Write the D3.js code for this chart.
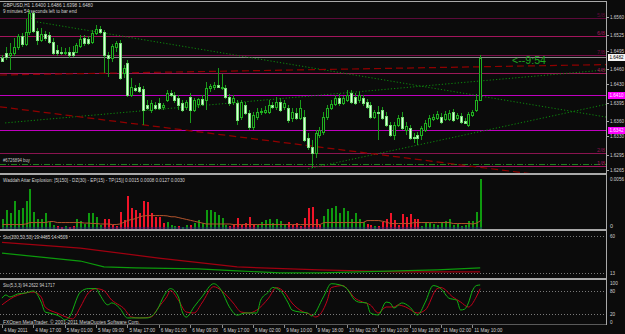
<!DOCTYPE html>
<html>
<head>
<meta charset="utf-8">
<script src="https://cdn.jsdelivr.net/npm/d3@7"></script>
<style>
html, body { margin: 0; padding: 0; background: #0b0b0b; overflow: hidden; }
svg { display: block; }
text { font-family: "Liberation Sans", Arial, sans-serif; }
</style>
</head>
<body>
<svg id="chart" width="625" height="334"></svg>
<script>
// ---- GBPUSD H1 candles (bar 0 = 4 May 09:00) ----
const opens = [1.6481,1.6490,1.6486,1.6490,1.6502,1.6523,1.6508,1.6531,1.6567,1.6533,1.6515,1.6527,1.6525,1.6511,1.6496,1.6492,1.6490,1.6492,1.6492,1.6492,1.6504,1.6519,1.6517,1.6511,1.6529,1.6536,1.6531,1.6486,1.6481,1.6502,1.6509,1.6452,1.6471,1.6410,1.6423,1.6425,1.6421,1.6390,1.6381,1.6390,1.6394,1.6387,1.6400,1.6413,1.6410,1.6404,1.6394,1.6387,1.6406,1.6381,1.6392,1.6402,1.6400,1.6423,1.6425,1.6429,1.6423,1.6423,1.6406,1.6396,1.6394,1.6367,1.6390,1.6375,1.6348,1.6367,1.6377,1.6377,1.6377,1.6390,1.6387,1.6396,1.6387,1.6385,1.6365,1.6375,1.6365,1.6367,1.6327,1.6310,1.6298,1.6333,1.6339,1.6367,1.6385,1.6392,1.6404,1.6394,1.6400,1.6413,1.6406,1.6400,1.6404,1.6396,1.6390,1.6367,1.6377,1.6381,1.6369,1.6352,1.6333,1.6352,1.6367,1.6342,1.6346,1.6329,1.6333,1.6333,1.6342,1.6350,1.6364,1.6365,1.6367,1.6364,1.6364,1.6377,1.6365,1.6369,1.6360,1.6352,1.6371,1.6381,1.6400];
const highs = [1.6486,1.6502,1.6509,1.6519,1.6527,1.6529,1.6556,1.6573,1.6569,1.6538,1.6538,1.6533,1.6531,1.6519,1.6506,1.6502,1.6500,1.6502,1.6504,1.6509,1.6525,1.6525,1.6523,1.6534,1.6544,1.6542,1.6534,1.6492,1.6508,1.6513,1.6515,1.6467,1.6477,1.6442,1.6429,1.6433,1.6427,1.6400,1.6400,1.6396,1.6404,1.6394,1.6419,1.6419,1.6415,1.6410,1.6400,1.6400,1.6413,1.6404,1.6404,1.6410,1.6435,1.6431,1.6435,1.6461,1.6450,1.6429,1.6412,1.6410,1.6400,1.6400,1.6396,1.6381,1.6377,1.6385,1.6385,1.6389,1.6400,1.6396,1.6406,1.6404,1.6400,1.6390,1.6385,1.6385,1.6400,1.6381,1.6337,1.6323,1.6342,1.6348,1.6377,1.6390,1.6400,1.6410,1.6412,1.6408,1.6419,1.6419,1.6413,1.6415,1.6410,1.6402,1.6396,1.6381,1.6389,1.6387,1.6377,1.6358,1.6358,1.6371,1.6377,1.6358,1.6352,1.6337,1.6339,1.6350,1.6362,1.6371,1.6373,1.6379,1.6375,1.6379,1.6381,1.6383,1.6375,1.6375,1.6365,1.6377,1.6381,1.6412,1.6486];
const lows = [1.6473,1.6477,1.6458,1.6484,1.6496,1.6502,1.6504,1.6525,1.6529,1.6506,1.6511,1.6513,1.6508,1.6486,1.6484,1.6486,1.6486,1.6481,1.6483,1.6490,1.6500,1.6504,1.6506,1.6508,1.6525,1.6527,1.6452,1.6444,1.6473,1.6492,1.6438,1.6442,1.6406,1.6406,1.6415,1.6413,1.6352,1.6381,1.6375,1.6381,1.6381,1.6381,1.6396,1.6406,1.6394,1.6381,1.6377,1.6381,1.6356,1.6377,1.6385,1.6389,1.6381,1.6415,1.6419,1.6423,1.6419,1.6402,1.6389,1.6390,1.6352,1.6362,1.6371,1.6342,1.6342,1.6362,1.6371,1.6373,1.6373,1.6383,1.6381,1.6377,1.6381,1.6356,1.6358,1.6362,1.6362,1.6319,1.6304,1.6269,1.6289,1.6327,1.6333,1.6362,1.6381,1.6389,1.6389,1.6390,1.6396,1.6392,1.6390,1.6394,1.6389,1.6383,1.6364,1.6364,1.6323,1.6362,1.6348,1.6329,1.6323,1.6348,1.6342,1.6333,1.6323,1.6317,1.6314,1.6323,1.6339,1.6346,1.6360,1.6362,1.6354,1.6360,1.6360,1.6358,1.6362,1.6354,1.6354,1.6348,1.6367,1.6377,1.6398];
const closes = [1.6475,1.6483,1.6490,1.6502,1.6523,1.6508,1.6531,1.6567,1.6533,1.6515,1.6527,1.6519,1.6511,1.6490,1.6490,1.6490,1.6492,1.6486,1.6486,1.6506,1.6517,1.6509,1.6509,1.6529,1.6536,1.6531,1.6486,1.6481,1.6504,1.6509,1.6442,1.6461,1.6410,1.6425,1.6419,1.6417,1.6381,1.6385,1.6394,1.6385,1.6385,1.6390,1.6413,1.6410,1.6400,1.6390,1.6381,1.6396,1.6381,1.6400,1.6402,1.6392,1.6423,1.6427,1.6429,1.6425,1.6425,1.6406,1.6394,1.6404,1.6362,1.6396,1.6375,1.6348,1.6371,1.6377,1.6378,1.6381,1.6390,1.6387,1.6396,1.6381,1.6394,1.6362,1.6377,1.6365,1.6385,1.6323,1.6310,1.6298,1.6337,1.6342,1.6367,1.6385,1.6392,1.6404,1.6394,1.6404,1.6410,1.6396,1.6394,1.6410,1.6394,1.6387,1.6367,1.6377,1.6376,1.6365,1.6352,1.6333,1.6352,1.6365,1.6346,1.6350,1.6327,1.6327,1.6327,1.6346,1.6356,1.6365,1.6367,1.6373,1.6358,1.6373,1.6375,1.6362,1.6371,1.6358,1.6356,1.6373,1.6377,1.6400,1.6480];

// ---- time axis ----
const timeLabelBars = [0, 8, 16, 24, 32, 40, 48, 56, 64, 72, 80, 88, 96, 104, 112, 120];
const timeLabels = ['4 May 2011', '4 May 17:00', '5 May 01:00', '5 May 09:00', '5 May 17:00', '6 May 01:00', '6 May 09:00', '6 May 17:00', '9 May 02:00', '9 May 10:00', '9 May 18:00', '10 May 02:00', '10 May 10:00', '10 May 18:00', '11 May 02:00', '11 May 10:00'];

// ---- price axis ----
const priceTicks = [1.6560, 1.6525, 1.6495, 1.6460, 1.6430, 1.6395, 1.6360, 1.6330, 1.6295, 1.6265];
const bidPrice = 1.6482;
const alertPrices = [1.6410, 1.6342];
const levelPrices = [1.6558, 1.6523, 1.6486, 1.6452, 1.6298, 1.6273];
const levelNames = ['5/8', '6/8', '7/8', '4/8', '2/8', '1/8'];
const buyOrderPrice = 1.6278;
const buyOrderName = '#6726894 buy';
// trend lines: [bar start, price start, bar end, price end]
const greenTrends = [[8.9, 1.6550, 154.3, 1.6367], [78.1, 1.6268, 154.3, 1.6392], [0.8, 1.6356, 154.3, 1.6458]];
const redTrends = [[-0.5, 1.6448, 154.3, 1.6468], [-0.5, 1.6387, 154.3, 1.6240]];

// ---- Waddah Attar Explosion (positive = green, negative = red) ----
const waeHist = [0.0011,0.0020,0.0017,0.0031,0.0021,0.0023,0.0030,0.0044,0.0018,0.0011,
  0.0011,0.0017,0.0007,0.0004,-0.0003,-0.0002,0.0003,-0.0002,-0.0003,0.0011,
  0.0008,0.0005,0.0017,0.0017,0.0013,0.0004,-0.0010,-0.0011,-0.0004,-0.0003,
  -0.0018,-0.0009,-0.0036,-0.0023,-0.0020,-0.0017,-0.0030,-0.0029,-0.0017,-0.0013,
  -0.0013,-0.0006,0.0007,0.0004,0.0003,-0.0003,0.0002,0.0004,-0.0004,0.0006,
  0.0009,0.0006,0.0021,0.0021,0.0018,0.0015,0.0012,0.0004,-0.0003,-0.0005,
  -0.0012,-0.0004,-0.0006,-0.0013,-0.0005,0.0004,0.0007,0.0009,0.0011,0.0006,
  0.0010,0.0008,0.0005,-0.0007,-0.0004,-0.0006,-0.0003,-0.0012,-0.0023,-0.0024,
  -0.0010,-0.0004,0.0014,0.0022,0.0023,0.0025,0.0017,0.0023,0.0019,0.0011,
  0.0017,0.0011,0.0007,-0.0005,-0.0004,0.0003,-0.0003,-0.0007,-0.0011,-0.0017,
  -0.0009,-0.0004,-0.0016,-0.0013,-0.0016,-0.0010,-0.0010,0.0003,0.0007,0.0006,
  0.0005,0.0004,0.0007,0.0008,0.0011,0.0004,0.0005,0.0003,0.0004,0.0008,
  0.0008,0.0018,0.0055];
const waeLine = [0.00044,0.00044,0.00044,0.00044,0.00044,0.00044,0.0005,0.00066,0.00066,0.00066,
  0.00066,0.00066,0.00077,0.00077,0.00066,0.00066,0.00066,0.00066,0.00066,0.00066,
  0.00066,0.0006,0.0006,0.00055,0.00055,0.0005,0.0005,0.0005,0.00044,0.00044,
  0.0005,0.0007,0.0009,0.0010,0.0011,0.0013,0.0014,0.00143,0.00143,0.00143,
  0.00143,0.00143,0.0014,0.0013,0.0013,0.0012,0.0011,0.0010,0.0009,0.0008,
  0.0007,0.0006,0.0005,0.0005,0.0005,0.0005,0.0005,0.0005,0.0005,0.00044,
  0.00044,0.00044,0.00044,0.00044,0.00044,0.00044,0.00044,0.00044,0.00044,0.00044,
  0.00044,0.00044,0.00044,0.00044,0.00044,0.00044,0.00044,0.00044,0.00044,0.00044,
  0.00044,0.00044,0.00066,0.00066,0.00066,0.00066,0.00066,0.00066,0.00066,0.00066,
  0.00066,0.00066,0.00066,0.00088,0.00088,0.00088,0.00088,0.0008,0.0007,0.00055,
  0.00055,0.00055,0.00055,0.00055,0.00055,0.00066,0.00066,0.00066,0.00066,0.00066,
  0.00066,0.00066,0.00066,0.00066,0.00066,0.00055,0.00055,0.00055,0.00055,0.00055,
  0.0005,0.0006,0.00088];
const waeTicks = ['0.0056', '0'];

// ---- Sto(200,50,50) ----
const slowMainBars = [0, 10, 20, 26, 34, 50, 60, 71, 81, 91, 101, 111, 122];
const slowMain = [38.2, 33.2, 28.2, 20.7, 19.45, 18.2, 15.7, 13.2, 13.2, 14.45, 15.7, 16.95, 19.45];
const slowSignalBars = [0, 20, 40, 60, 81, 101, 122];
const slowSignal = [52, 44.5, 32, 20.7, 16.95, 14.45, 14.45];
const slowTicks = [60, 13];

// ---- Sto(5,3,3) ----
const fastMainBars = [0,1,2,4,6,8,10,11,12,15,16,17,20,22,24,25,27,28,30,32,33,37,40,41,43,45,46,47,49,51,54,56,58,60,62,65,66,68,69,71,73,74,76,78,79,82,84,86,88,90,91,93,94,96,98,99,100,102,104,106,108,110,112,114,116,117,118,119,120,121,122];
const fastMain = [61,69,64,71.5,74,79,51,26,23.5,13.4,6,11,76.5,85,85,69,44,49,36,11,11,11,39,61,85,64,26,13,39,64,97.5,80,39,18,23.5,23.5,56,76.5,88,80,49,31,26,23.5,16,64,97.5,95,85,56,51,49,23.5,18.4,51,49,36,49,39,18.4,51,92.7,85,61,56,31,33,49,79,92.7,94.26];
const fastSignalBars = [0,3,5,8,10,11,14,17,18,20,22,24,26,28,29,31,33,35,38,40,42,43,45,47,49,51,54,56,59,61,63,65,68,70,72,74,76,79,80,83,84,87,88,90,92,94,96,98,100,101,103,106,108,111,112,115,117,119,121,122];
const fastSignal = [44,64,71.5,76.5,64,38.6,23.5,11,8.3,38.6,74,85,80,56,49,36,13.4,11,13.4,38.6,64,80,56,26,23.5,48.7,90,80,48.7,26,23.5,31,61,87.6,76.5,48.7,31,18.4,13.4,56,87.6,92.7,85,61.4,51.3,43.7,23.5,38.6,38.6,43.7,38.6,23.5,31,85,87.6,64,51.3,38.6,64,85];
const fastTicks = [100, 80, 20, 0];

// ---- styles ----
const BG = '#0b0b0b';
const AXIS_X = 607;
const TXT = '#d2d2d2';
const GRAY = '#a9a9a9';
const levelColors = ['#5c0a3a', '#a3155c', '#780c48', '#9c1858', '#8a1450', '#a3165e'];

const svg = d3.select('#chart');
svg.append('rect').attr('width', 625).attr('height', 334).attr('fill', BG);

const x = d3.scaleLinear().domain([0, 122]).range([2, 480.2]);
const yPrice = d3.scaleLinear().domain([1.6265, 1.6560]).range([170.3, 16.7]);
const yWae = d3.scaleLinear().domain([0, 0.0056]).range([228.5, 178]);
const ySlow = d3.scaleLinear().domain([13, 60]).range([273, 236]);
const yFast = d3.scaleLinear().domain([0, 100]).range([322.3, 282.7]);

const defs = svg.append('defs');
defs.append('clipPath').attr('id', 'clip-main').append('rect').attr('x', 0).attr('y', 2).attr('width', AXIS_X).attr('height', 171);

// squeeze a text horizontally to a given width (MT4 uses narrow bitmap fonts)
function squeeze(node, xx, yy, len) {
	const w = node.getComputedTextLength();
	const s = w > 0 && len ? Math.min(1.3, len / w) : 1;
	d3.select(node).attr('x', 0).attr('y', 0).attr('transform', `translate(${xx},${yy}) scale(${s},1)`);
}

function label(g, str, xx, yy, len, opts = {}) {
	const t = g.append('text')
		.attr('fill', opts.fill || TXT)
		.attr('font-size', opts.size || 6)
		.attr('text-anchor', opts.anchor || 'start')
		.text(str);
	squeeze(t.node(), xx, yy, len);
	return t;
}

// MAIN PANEL
const main = svg.append('g').attr('clip-path', 'url(#clip-main)');
const hl = main.append('g').attr('shape-rendering', 'crispEdges');
const snap = (v) => Math.round(v) + 0.5;

hl.selectAll('line.level')
	.data(levelPrices)
	.join('line')
	.attr('class', 'level')
	.attr('x1', 0).attr('x2', AXIS_X)
	.attr('y1', (d) => snap(yPrice(d))).attr('y2', (d) => snap(yPrice(d)))
	.attr('stroke', (d, k) => levelColors[k]);

hl.selectAll('line.alert')
	.data(alertPrices)
	.join('line')
	.attr('class', 'alert')
	.attr('x1', 0).attr('x2', AXIS_X)
	.attr('y1', (d) => snap(yPrice(d))).attr('y2', (d) => snap(yPrice(d)))
	.attr('stroke', '#c000c0');

hl.append('line')
	.attr('x1', 0).attr('x2', AXIS_X)
	.attr('y1', snap(yPrice(bidPrice))).attr('y2', snap(yPrice(bidPrice)))
	.attr('stroke', '#8a8a8a');

hl.append('line')
	.attr('x1', 0).attr('x2', AXIS_X)
	.attr('y1', snap(yPrice(buyOrderPrice))).attr('y2', snap(yPrice(buyOrderPrice)))
	.attr('stroke', '#1f801f')
	.attr('stroke-dasharray', '6,2,1,2');

// trend lines
main.selectAll('line.gtrend')
	.data(greenTrends)
	.join('line')
	.attr('class', 'gtrend')
	.attr('x1', (d) => x(d[0])).attr('y1', (d) => yPrice(d[1]))
	.attr('x2', (d) => x(d[2])).attr('y2', (d) => yPrice(d[3]))
	.attr('stroke', '#0c8a0c')
	.attr('stroke-width', 1)
	.attr('stroke-dasharray', '1.2,2');

main.selectAll('line.rtrend')
	.data(redTrends)
	.join('line')
	.attr('class', 'rtrend')
	.attr('x1', (d) => x(d[0])).attr('y1', (d) => yPrice(d[1]))
	.attr('x2', (d) => x(d[2])).attr('y2', (d) => yPrice(d[3]))
	.attr('stroke', '#900000')
	.attr('stroke-width', 1.2)
	.attr('stroke-dasharray', '7,4');

// candles
const bars = d3.range(opens.length).map((i) => ({ i, o: opens[i], h: highs[i], l: lows[i], c: closes[i] }));
const cg = main.append('g').attr('shape-rendering', 'crispEdges');
cg.selectAll('line.wick')
	.data(bars)
	.join('line')
	.attr('class', 'wick')
	.attr('x1', (d) => Math.round(x(d.i)) + 0.5)
	.attr('x2', (d) => Math.round(x(d.i)) + 0.5)
	.attr('y1', (d) => yPrice(d.h))
	.attr('y2', (d) => yPrice(d.l))
	.attr('stroke', '#1a9a1a');

cg.selectAll('rect.body')
	.data(bars)
	.join('rect')
	.attr('class', 'body')
	.attr('x', (d) => Math.round(x(d.i)) - 0.5)
	.attr('y', (d) => Math.round(yPrice(Math.max(d.o, d.c))) + 0.5)
	.attr('width', 2)
	.attr('height', (d) => Math.max(0.01, Math.round(yPrice(Math.min(d.o, d.c))) - Math.round(yPrice(Math.max(d.o, d.c)))))
	.attr('fill', (d) => (d.c >= d.o ? BG : '#dcffdc'))
	.attr('stroke', (d) => (d.c >= d.o ? '#1fb01f' : '#78e078'));

// header texts
const txt = svg.append('g');
label(txt, 'GBPUSD,H1  1.6400 1.6486 1.6398 1.6480', 3, 6.8, 90, { size: 5.5 });
label(txt, '9 minutes 54 seconds left to bar end', 3, 13.2, 74, { size: 5.5 });
label(txt, buyOrderName, 3, 162, 27, { fill: '#c8c8c8' });
label(txt, '<--9:54', 512, 63.5, 34, { fill: '#1ea51e', size: 10 });

// level names near axis
txt.selectAll('text.lvl')
	.data(levelPrices)
	.join('text')
	.attr('class', 'lvl')
	.attr('text-anchor', 'end')
	.attr('font-size', 5.5)
	.attr('fill', (d, k) => levelColors[k])
	.text((d, k) => levelNames[k])
	.each(function (d) { squeeze(this, 605, yPrice(d) - 1, 8); });

// WAE PANEL
const wae = svg.append('g').attr('shape-rendering', 'crispEdges');
wae.selectAll('rect.hist')
	.data(waeHist)
	.join('rect')
	.attr('class', 'hist')
	.attr('x', (d, i) => Math.round(x(i)))
	.attr('width', 1.6)
	.attr('y', (d) => yWae(Math.abs(d)))
	.attr('height', (d) => yWae(0) - yWae(Math.abs(d)))
	.attr('fill', (d) => (d >= 0 ? '#0f9a0f' : '#f01428'));

svg.append('path')
	.datum(waeLine)
	.attr('fill', 'none')
	.attr('stroke', '#b4552d')
	.attr('stroke-width', 1)
	.attr('d', d3.line().x((d, i) => x(i) + 0.5).y((d) => yWae(d)));

svg.append('line')
	.attr('x1', x(0)).attr('x2', x(122) + 2)
	.attr('y1', 228).attr('y2', 228)
	.attr('stroke', '#1c1c70');

// STO 200 PANEL
const grid = svg.append('g').attr('shape-rendering', 'crispEdges');
[ySlow(60), ySlow(13), yFast(80), yFast(20)].forEach((yy) => {
	grid.append('line')
		.attr('x1', 0).attr('x2', AXIS_X)
		.attr('y1', snap(yy)).attr('y2', snap(yy))
		.attr('stroke', '#7a7a7a')
		.attr('stroke-dasharray', '1,2');
});

svg.append('path')
	.datum(slowSignalBars.map((b, k) => [b, slowSignal[k]]))
	.attr('fill', 'none').attr('stroke', '#a00010').attr('stroke-width', 1.2)
	.attr('d', d3.line().x((d) => x(d[0])).y((d) => ySlow(d[1])));
svg.append('path')
	.datum(slowMainBars.map((b, k) => [b, slowMain[k]]))
	.attr('fill', 'none').attr('stroke', '#0c9a0c').attr('stroke-width', 1.2)
	.attr('d', d3.line().x((d) => x(d[0])).y((d) => ySlow(d[1])));

// STO 5 PANEL
svg.append('path')
	.datum(fastSignalBars.map((b, k) => [b, fastSignal[k]]))
	.attr('fill', 'none').attr('stroke', '#c0001a').attr('stroke-width', 1)
	.attr('d', d3.line().curve(d3.curveMonotoneX).x((d) => x(d[0])).y((d) => yFast(d[1])));
svg.append('path')
	.datum(fastMainBars.map((b, k) => [b, fastMain[k]]))
	.attr('fill', 'none').attr('stroke', '#12b012').attr('stroke-width', 1)
	.attr('d', d3.line().curve(d3.curveMonotoneX).x((d) => x(d[0])).y((d) => yFast(d[1])));

// indicator titles
label(txt, 'Waddah Attar Explosion: [5|150] - DZ(30) - EP(15) - TP(15)] 0.0015 0.0008 0.0127 0.0030', 3, 182, 182);
label(txt, 'Sto(200,50,50) 19.4485 14.4509', 3, 238.5, 65);
label(txt, 'Sto(5,3,3) 94.2622 94.1717', 3, 286.5, 52);
label(txt, 'FXOpen MetaTrader, \u00a9 2001-2011 MetaQuotes Software Corp.', 3, 323.5, 137);

// FRAME / SEPARATORS
const frame = svg.append('g').attr('shape-rendering', 'crispEdges');
frame.append('line').attr('x1', 0).attr('x2', AXIS_X).attr('y1', 1.5).attr('y2', 1.5).attr('stroke', GRAY);
[173, 229, 277.5].forEach((yy) => {
	frame.append('rect').attr('x', 0).attr('y', yy).attr('width', AXIS_X).attr('height', 2).attr('fill', GRAY);
});
frame.append('line').attr('x1', 0).attr('x2', AXIS_X).attr('y1', 324.5).attr('y2', 324.5).attr('stroke', '#5a5a5a');
frame.append('line').attr('x1', AXIS_X - 0.5).attr('x2', AXIS_X - 0.5).attr('y1', 1).attr('y2', 325).attr('stroke', GRAY);

// price axis labels
const ax = svg.append('g');
ax.selectAll('line.ptick')
	.data(priceTicks)
	.join('line')
	.attr('class', 'ptick')
	.attr('x1', AXIS_X).attr('x2', AXIS_X + 2)
	.attr('y1', (d) => snap(yPrice(d))).attr('y2', (d) => snap(yPrice(d)))
	.attr('stroke', GRAY).attr('shape-rendering', 'crispEdges');
ax.selectAll('text.ptick')
	.data(priceTicks)
	.join('text')
	.attr('class', 'ptick')
	.attr('font-size', 6)
	.attr('fill', TXT)
	.text((d) => d.toFixed(4))
	.each(function (d) { squeeze(this, 610, yPrice(d) + 2, 14); });

function priceBox(p, fill, color) {
	const yy = Math.round(yPrice(p));
	ax.append('rect').attr('x', 607.5).attr('y', yy - 3.5).attr('width', 17).attr('height', 7)
		.attr('fill', fill).attr('shape-rendering', 'crispEdges');
	label(ax, p.toFixed(4), 609.5, yy + 2.3, 14, { fill: color });
}
priceBox(bidPrice, '#f4f4f4', '#000000');
alertPrices.forEach((p) => priceBox(p, '#ff00ff', '#ffe8ff'));

// sub-window axis labels
label(ax, waeTicks[0], 610, yWae(0.0056) + 2.5, 14);
label(ax, waeTicks[1], 610, yWae(0) - 0.5, 3);
slowTicks.forEach((v) => label(ax, String(v), 610, ySlow(v) + 2, 5));
fastTicks.forEach((v) => label(ax, String(v), 610, yFast(v) + 2, String(v).length * 2.6));

// time axis
const ta = svg.append('g');
ta.selectAll('line.tt')
	.data(timeLabelBars)
	.join('line')
	.attr('class', 'tt')
	.attr('x1', (d) => Math.round(x(d)) + 0.5).attr('x2', (d) => Math.round(x(d)) + 0.5)
	.attr('y1', 325).attr('y2', 328)
	.attr('stroke', '#8a8a8a').attr('shape-rendering', 'crispEdges');
ta.selectAll('text.tt')
	.data(timeLabelBars)
	.join('text')
	.attr('class', 'tt')
	.attr('font-size', 6)
	.attr('fill', TXT)
	.text((d, k) => timeLabels[k])
	.each(function (d, k) { squeeze(this, x(d) + 2, 332, timeLabels[k].length * 2.35); });
</script>
</body>
</html>
